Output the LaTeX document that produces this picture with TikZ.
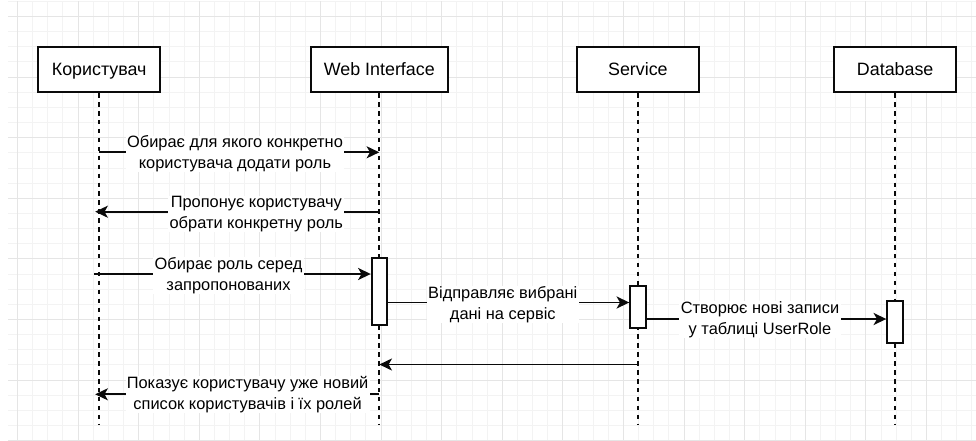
\documentclass[tikz,border=0pt]{standalone}
\usepackage{fontspec}
\setmainfont{Liberation Sans}
\usetikzlibrary{arrows.meta}
\definecolor{gridminor}{RGB}{243,243,243}
\definecolor{gridmajor}{RGB}{229,229,229}
\definecolor{ink}{RGB}{10,10,10}

\begin{document}
\begin{tikzpicture}[x=0.75pt,y=-0.75pt,
  actor/.style={draw=ink, line width=1.35pt, fill=white, minimum height=34.2pt,
    inner sep=0pt, font=\fontsize{13.4}{16}\selectfont, text height=9.6pt, text depth=0pt},
  activation/.style={draw=ink, line width=1.35pt, fill=white, minimum width=11.7pt, inner sep=0pt},
  lifeline/.style={draw=ink, line width=1.35pt, dash pattern=on 3.35pt off 3.35pt},
  msg/.style={draw=ink, line width=1.35pt, -{Stealth[length=9.5pt,width=9pt,inset=2.5pt]}},
  msglabel/.style={fill=white, inner xsep=1pt, inner ysep=0pt, align=center,
    font=\fontsize{12.3}{15.75}\selectfont},
]
\useasboundingbox (0,0) rectangle (976,440);
\fill[white] (0,0) rectangle (976,440);

% background grid
\begin{scope}
  \clip (8,1.7) rectangle (976,440);
  \foreach \i in {0,...,64}
    \draw[gridminor, line width=0.75pt] ({2.35+15.15*\i},0) -- ({2.35+15.15*\i},440);
  \foreach \j in {0,...,29}
    \draw[gridminor, line width=0.75pt] (0,{1.35+15.15*\j}) -- (976,{1.35+15.15*\j});
  \foreach \i in {0,...,16}
    \draw[gridmajor, line width=0.75pt] ({17.5+60.6*\i},0) -- ({17.5+60.6*\i},440);
  \foreach \j in {0,...,7}
    \draw[gridmajor, line width=0.75pt] (0,{16.5+60.6*\j}) -- (976,{16.5+60.6*\j});
\end{scope}

% participants
\node[actor, minimum width=91.3pt]  (user)    at (99.2,69.5)  {Користувач};
\node[actor, minimum width=102.5pt] (web)     at (379.3,69.5) {Web Interface};
\node[actor, minimum width=91.3pt]  (service) at (637.9,69.5) {Service};
\node[actor, minimum width=91.3pt]  (db)      at (895.2,69.5) {Database};

% lifelines
\coordinate (bottom) at (0,424);
\foreach \p in {user,web,service,db}
  \draw[lifeline] (\p.south) -- (\p |- bottom);

% activation bars
\node[activation, minimum height=50pt]   (webact)  at (379.5,291.7) {};
\node[activation, minimum height=31.3pt] (servact) at (638,306.9)   {};
\node[activation, minimum height=31.3pt] (dbact)   at (895,321.9)   {};

% message rows
\coordinate (r1) at (0,152.3);
\coordinate (r2) at (0,211.7);
\coordinate (r3) at (0,274);
\coordinate (r4) at (0,302.5);
\coordinate (r5) at (0,319);
\coordinate (r6) at (0,364.5);
\coordinate (r7) at (0,394.3);

% messages
\draw[msg] (user |- r1) -- (web |- r1);
\node[msglabel] (l1) at (235,153.8) {Обирає для якого конкретно\\користувача додати роль};

\draw[msg, shorten >=-3pt] (web |- r2) -- (user |- r2);
\node[msglabel] (l2) at (256.3,214.3) {Пропонує користувачу\\обрати конкретну роль};

\draw[msg, shorten <=-3.75pt] (user |- r3) -- (webact.west |- r3);
\node[msglabel] (l3) at (228.5,275.5) {Обирає роль серед\\запропонованих};

\draw[msg] (webact.east |- r4) -- (servact.west |- r4);
\node[msglabel] (l4) at (502.8,304.5) {Відправляє вибрані\\дані на сервіс};

\draw[msg] (servact.east |- r5) -- (dbact.west |- r5);
\node[msglabel] (l5) at (760,319.5) {Створює нові записи\\у таблиці UserRole};

\draw[msg] (service |- r6) -- (web |- r6);

\draw[msg, shorten >=-3pt] (web |- r7) -- (user |- r7);
\node[msglabel] (l7) at (247.6,394.5) {Показує користувачу уже новий\\список користувачів і їх ролей};
\end{tikzpicture}
\end{document}
